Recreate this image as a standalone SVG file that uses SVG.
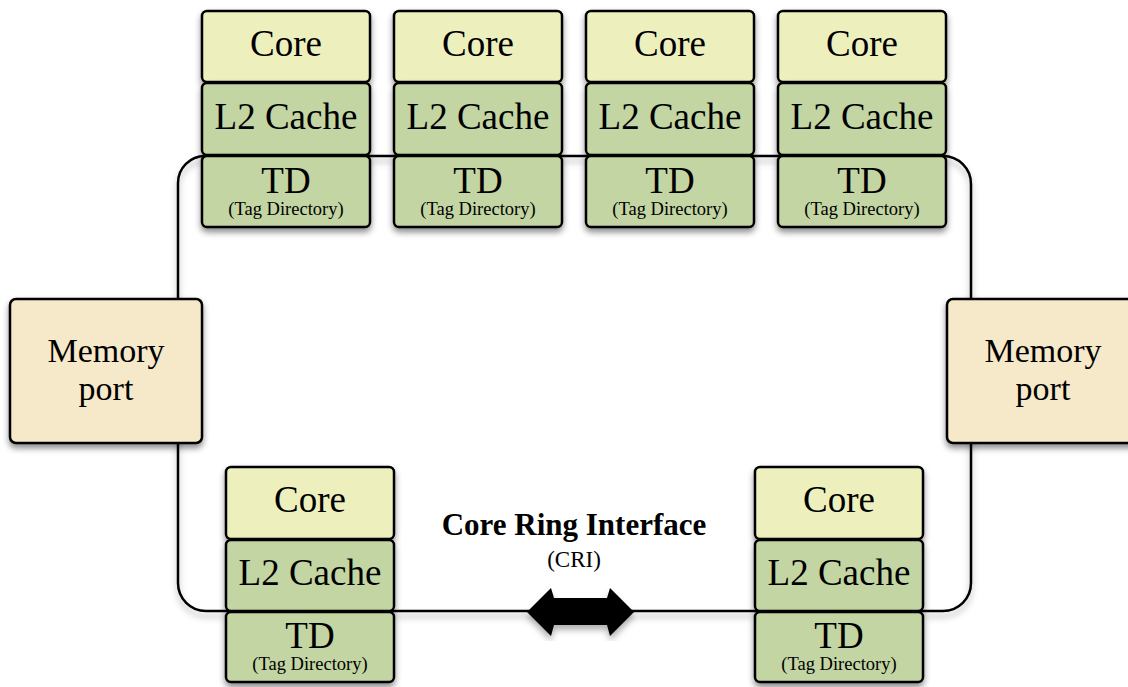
<svg xmlns="http://www.w3.org/2000/svg" width="1128" height="687" viewBox="0 0 1128 687">
  <defs>
    <filter id="shadow" x="-20%" y="-20%" width="140%" height="150%">
      <feDropShadow dx="0" dy="4" stdDeviation="3" flood-color="#000" flood-opacity="0.45"/>
    </filter>
    <filter id="lineShadow" x="-5%" y="-10%" width="110%" height="120%">
      <feDropShadow dx="0" dy="5" stdDeviation="3" flood-color="#000" flood-opacity="0.3"/>
    </filter>
  </defs>
  <style>
    .box { stroke: #000; stroke-width: 2.5; filter: url(#shadow); }
    .core { fill: #EDF0BD; }
    .l2 { fill: #C3D5A3; }
    .td { fill: #C3D5A3; }
    .mem { fill: #F5E9C9; }
    .ring { fill: none; stroke: #000; stroke-width: 2.5; filter: url(#lineShadow); }
    text { font-family: "Liberation Serif", "Times New Roman", serif; fill: #000; text-anchor: middle; }
    .big { font-size: 37px; }
    .memtxt { font-size: 34px; }
    .small { font-size: 18.5px; }
    .title { font-size: 31px; font-weight: bold; }
    .sub { font-size: 23px; }
  </style>

  <!-- ring interconnect -->
  <g id="connectors">
    <path class="ring" d="M 205 156 H 943 A 28 28 0 0 1 971 184 V 583 A 28 28 0 0 1 943 611 H 206 A 28 28 0 0 1 178 583 V 183 A 27 27 0 0 1 205 156 Z"/>
    <polygon id="cri-arrow" points="527,612 551,588 554,598 607,598 610,588 634,612 610,636 607,625 554,625 551,636" fill="#000" filter="url(#lineShadow)"/>
  </g>

  <!-- top row of cores -->
  <g id="node1">
    <rect class="box core" x="202" y="11" width="168" height="71" rx="5"/>
    <rect class="box l2" x="202" y="83" width="168" height="72" rx="5"/>
    <rect class="box td" x="202" y="156" width="168" height="71" rx="5"/>
    <text class="big" x="286" y="56">Core</text>
    <text class="big" x="286" y="129">L2 Cache</text>
    <text class="big" x="286" y="193">TD</text>
    <text class="small" x="286" y="215">(Tag Directory)</text>
  </g>
  <g id="node2">
    <rect class="box core" x="394" y="11" width="168" height="71" rx="5"/>
    <rect class="box l2" x="394" y="83" width="168" height="72" rx="5"/>
    <rect class="box td" x="394" y="156" width="168" height="71" rx="5"/>
    <text class="big" x="478" y="56">Core</text>
    <text class="big" x="478" y="129">L2 Cache</text>
    <text class="big" x="478" y="193">TD</text>
    <text class="small" x="478" y="215">(Tag Directory)</text>
  </g>
  <g id="node3">
    <rect class="box core" x="586" y="11" width="168" height="71" rx="5"/>
    <rect class="box l2" x="586" y="83" width="168" height="72" rx="5"/>
    <rect class="box td" x="586" y="156" width="168" height="71" rx="5"/>
    <text class="big" x="670" y="56">Core</text>
    <text class="big" x="670" y="129">L2 Cache</text>
    <text class="big" x="670" y="193">TD</text>
    <text class="small" x="670" y="215">(Tag Directory)</text>
  </g>
  <g id="node4">
    <rect class="box core" x="778" y="11" width="168" height="71" rx="5"/>
    <rect class="box l2" x="778" y="83" width="168" height="72" rx="5"/>
    <rect class="box td" x="778" y="156" width="168" height="71" rx="5"/>
    <text class="big" x="862" y="56">Core</text>
    <text class="big" x="862" y="129">L2 Cache</text>
    <text class="big" x="862" y="193">TD</text>
    <text class="small" x="862" y="215">(Tag Directory)</text>
  </g>

  <!-- memory ports -->
  <g id="mem-left">
    <rect class="box mem" x="10" y="299" width="192" height="144" rx="6"/>
    <text class="memtxt" x="106" y="362">Memory</text>
    <text class="memtxt" x="106" y="400">port</text>
  </g>
  <g id="mem-right">
    <rect class="box mem" x="947" y="299" width="192" height="144" rx="6"/>
    <text class="memtxt" x="1043" y="362">Memory</text>
    <text class="memtxt" x="1043" y="400">port</text>
  </g>

  <!-- bottom row of cores -->
  <g id="node5">
    <rect class="box core" x="226" y="467" width="168" height="72" rx="5"/>
    <rect class="box l2" x="226" y="540" width="168" height="71" rx="5"/>
    <rect class="box td" x="226" y="612" width="168" height="70" rx="5"/>
    <text class="big" x="310" y="512">Core</text>
    <text class="big" x="310" y="585">L2 Cache</text>
    <text class="big" x="310" y="648">TD</text>
    <text class="small" x="310" y="670">(Tag Directory)</text>
  </g>
  <g id="node6">
    <rect class="box core" x="755" y="467" width="168" height="72" rx="5"/>
    <rect class="box l2" x="755" y="540" width="168" height="71" rx="5"/>
    <rect class="box td" x="755" y="612" width="168" height="70" rx="5"/>
    <text class="big" x="839" y="512">Core</text>
    <text class="big" x="839" y="585">L2 Cache</text>
    <text class="big" x="839" y="648">TD</text>
    <text class="small" x="839" y="670">(Tag Directory)</text>
  </g>

  <!-- ring label -->
  <g id="cri-label">
    <text class="title" x="574" y="535">Core Ring Interface</text>
    <text class="sub" x="574" y="567">(CRI)</text>
  </g>
</svg>
